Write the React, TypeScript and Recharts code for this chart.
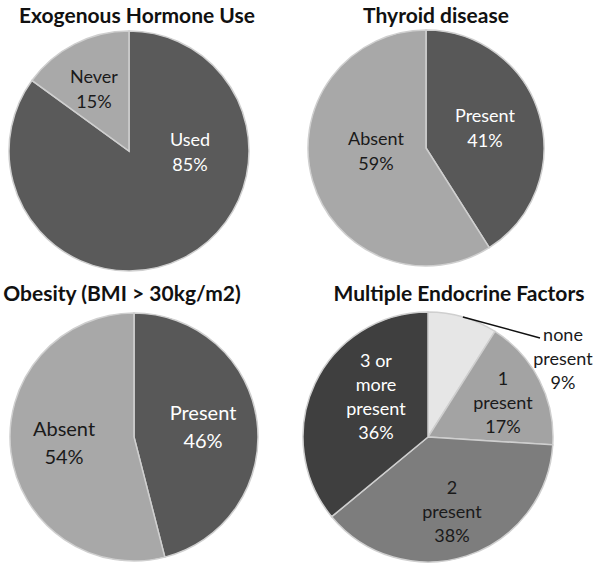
import React from 'react';
import { PieChart, Pie, Cell } from 'recharts';

// slice names (\n = line break in label) and percentages
const hormoneNames = ['Used', 'Never'];
const hormoneValues = [85, 15];

const thyroidNames = ['Present', 'Absent'];
const thyroidValues = [41, 59];

const obesityNames = ['Present', 'Absent'];
const obesityValues = [46, 54];

const endocrineNames = ['none\npresent', '1\npresent', '2\npresent', '3 or\nmore\npresent'];
const endocrineValues = [9, 17, 38, 36];

const titles = ['Exogenous Hormone Use', 'Thyroid disease', 'Obesity (BMI > 30kg/m2)', 'Multiple Endocrine Factors'];

const toRows = (names: string[], values: number[]) => names.map((name, i) => ({ name, value: values[i] }));

const FONT = 'Lato, "Open Sans", sans-serif';

type LabelCfg = {
  offsets: number[][];
  colors: string[];
  fontSize: number;
  lineH: number;
  leader?: { index: number; end: number[] };
};

const makeLabel = (cfg: LabelCfg) => (props: any) => {
  const { cx, cy, index, midAngle, outerRadius } = props;
  const name = props.name ?? props.payload?.name;
  const value = props.value ?? props.payload?.value;
  const [dx, dy] = cfg.offsets[index];
  const lines = [...String(name).split('\n'), `${value}%`];
  const x = cx + dx;
  const y0 = cy + dy - ((lines.length - 1) * cfg.lineH) / 2;
  let leader = null;
  if (cfg.leader && cfg.leader.index === index) {
    const rad = (Math.PI / 180) * midAngle;
    const sx = cx + outerRadius * Math.cos(rad);
    const sy = cy - outerRadius * Math.sin(rad);
    leader = (
      <line x1={sx} y1={sy} x2={cx + cfg.leader.end[0]} y2={cy + cfg.leader.end[1]} stroke="#111" strokeWidth={1.5} />
    );
  }
  return (
    <g>
      {leader}
      <text
        x={x}
        y={y0}
        textAnchor="middle"
        dominantBaseline="central"
        fill={cfg.colors[index]}
        fontSize={cfg.fontSize}
        fontFamily={FONT}
      >
        {lines.map((l, i) => (
          <tspan key={i} x={x} y={y0 + i * cfg.lineH}>
            {l}
          </tspan>
        ))}
      </text>
    </g>
  );
};

const pies = [
  {
    data: toRows(hormoneNames, hormoneValues),
    cx: 129, cy: 151, r: 120,
    fills: ['#5a5a5a', '#a9a9a9'],
    label: { offsets: [[61, 0], [-35, -63]], colors: ['#fff', '#1a1a1a'], fontSize: 18, lineH: 25 },
  },
  {
    data: toRows(thyroidNames, thyroidValues),
    cx: 426, cy: 148, r: 118,
    fills: ['#585858', '#a8a8a8'],
    label: { offsets: [[59, -21], [-50, 2]], colors: ['#fff', '#1a1a1a'], fontSize: 18, lineH: 25 },
  },
  {
    data: toRows(obesityNames, obesityValues),
    cx: 134, cy: 437, r: 124,
    fills: ['#585858', '#a8a8a8'],
    label: { offsets: [[69, -11], [-70, 5]], colors: ['#fff', '#1a1a1a'], fontSize: 20, lineH: 28 },
  },
  {
    data: toRows(endocrineNames, endocrineValues),
    cx: 428, cy: 437, r: 125,
    fills: ['#e6e6e6', '#a3a3a3', '#7d7d7d', '#3f3f3f'],
    label: {
      offsets: [[135, -79], [75, -35], [24, 74], [-52, -41]],
      colors: ['#1a1a1a', '#1a1a1a', '#1a1a1a', '#fff'],
      fontSize: 18,
      lineH: 24,
      leader: { index: 0, end: [112, -99] },
    },
  },
];

const titlePos = [
  { x: 137, y: 15 },
  { x: 436, y: 15 },
  { x: 122, y: 293 },
  { x: 459, y: 293 },
];

export default function App() {
  return (
    <div style={{ position: 'absolute', left: 0, top: 0, width: 600, height: 569, background: '#fff' }}>
      <PieChart width={600} height={569} margin={{ top: 0, right: 0, bottom: 0, left: 0 }}>
        {pies.map((p, k) => (
          <Pie
            key={k}
            data={p.data}
            dataKey="value"
            nameKey="name"
            cx={p.cx}
            cy={p.cy}
            outerRadius={p.r}
            startAngle={90}
            endAngle={-270}
            stroke="#cfcfcf"
            strokeWidth={1.5}
            labelLine={false}
            label={makeLabel(p.label as LabelCfg)}
            isAnimationActive={false}
          >
            {p.data.map((_, i) => (
              <Cell key={i} fill={p.fills[i]} />
            ))}
          </Pie>
        ))}
      </PieChart>
      {titles.map((t, i) => (
        <div
          key={t}
          style={{
            position: 'absolute',
            left: titlePos[i].x - 160,
            top: titlePos[i].y - 13,
            width: 320,
            lineHeight: '26px',
            textAlign: 'center',
            fontFamily: FONT,
            fontWeight: 700,
            fontSize: 21,
            color: '#111',
          }}
        >
          {t}
        </div>
      ))}
    </div>
  );
}
